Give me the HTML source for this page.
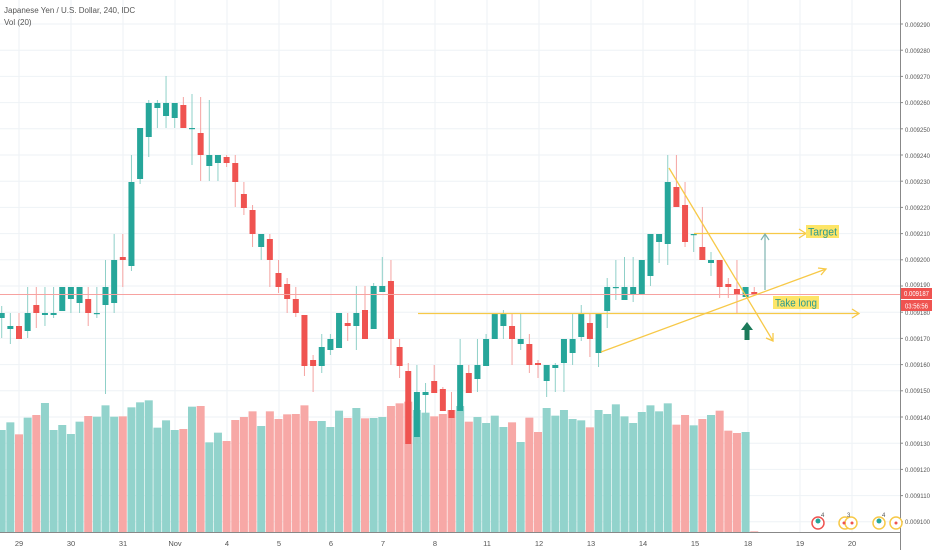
<!DOCTYPE html>
<html><head><meta charset="utf-8"><style>
html,body{margin:0;padding:0;background:#fff;width:932px;height:550px;overflow:hidden}
svg{display:block;font-family:"Liberation Sans",sans-serif}
</style></head><body>
<svg id="s" width="932" height="550" viewBox="0 0 932 550" xmlns="http://www.w3.org/2000/svg">
<g id="grid" stroke="#eef2f6" stroke-width="1"></g>
<g id="vol"></g>
<g id="cand"></g>
<line x1="0" y1="294.5" x2="900" y2="294.5" stroke="#f7a2a0" stroke-width="1"/>
<g fill="none" stroke="#f7c948" stroke-width="1.3">
<line x1="418" y1="313.5" x2="859" y2="313.5"/><polyline points="852,309 859,313.5 852,318"/>
<line x1="601" y1="352" x2="826" y2="269"/><polyline points="818,268 826,269 821,275"/>
<line x1="669" y1="168" x2="773" y2="341"/><polyline points="766,338 773,341 773,333"/>
<line x1="694" y1="233.5" x2="806" y2="233.5"/><polyline points="799,229 806,233.5 799,238"/>
</g>
<g stroke="#7fb3b0" stroke-width="1.2" fill="none"><line x1="765" y1="290" x2="765" y2="234"/><polyline points="761,240 765,234 769,240"/></g>
<rect x="806" y="225" width="33" height="13" fill="#fde567"/>
<text x="808" y="235.5" font-size="11" fill="#2a9a8e" textLength="29" lengthAdjust="spacingAndGlyphs">Target</text>
<rect x="773" y="296" width="46" height="13" fill="#fde567"/>
<text x="775" y="306.5" font-size="11" fill="#2a9a8e" textLength="42" lengthAdjust="spacingAndGlyphs">Take long</text>
<path d="M747 322 L753 330 L749.5 330 L749.5 340 L744.5 340 L744.5 330 L741 330 Z" fill="#1b7a5a"/>
<line x1="0" y1="532.5" x2="900" y2="532.5" stroke="#888" stroke-width="1"/>
<line x1="900.5" y1="0" x2="900.5" y2="550" stroke="#888" stroke-width="1"/>
<g font-size="6.5" fill="#555">
<text x="905" y="27" textLength="25" lengthAdjust="spacingAndGlyphs">0.009290</text><text x="905" y="53" textLength="25" lengthAdjust="spacingAndGlyphs">0.009280</text><text x="905" y="79" textLength="25" lengthAdjust="spacingAndGlyphs">0.009270</text><text x="905" y="105" textLength="25" lengthAdjust="spacingAndGlyphs">0.009260</text><text x="905" y="132" textLength="25" lengthAdjust="spacingAndGlyphs">0.009250</text><text x="905" y="158" textLength="25" lengthAdjust="spacingAndGlyphs">0.009240</text><text x="905" y="184" textLength="25" lengthAdjust="spacingAndGlyphs">0.009230</text><text x="905" y="210" textLength="25" lengthAdjust="spacingAndGlyphs">0.009220</text><text x="905" y="236" textLength="25" lengthAdjust="spacingAndGlyphs">0.009210</text><text x="905" y="262" textLength="25" lengthAdjust="spacingAndGlyphs">0.009200</text><text x="905" y="287" textLength="25" lengthAdjust="spacingAndGlyphs">0.009190</text><text x="905" y="315" textLength="25" lengthAdjust="spacingAndGlyphs">0.009180</text><text x="905" y="341" textLength="25" lengthAdjust="spacingAndGlyphs">0.009170</text><text x="905" y="367" textLength="25" lengthAdjust="spacingAndGlyphs">0.009160</text><text x="905" y="393" textLength="25" lengthAdjust="spacingAndGlyphs">0.009150</text><text x="905" y="420" textLength="25" lengthAdjust="spacingAndGlyphs">0.009140</text><text x="905" y="446" textLength="25" lengthAdjust="spacingAndGlyphs">0.009130</text><text x="905" y="472" textLength="25" lengthAdjust="spacingAndGlyphs">0.009120</text><text x="905" y="498" textLength="25" lengthAdjust="spacingAndGlyphs">0.009110</text><text x="905" y="524" textLength="25" lengthAdjust="spacingAndGlyphs">0.009100</text>
</g>
<g id="ticks" stroke="#888"></g>
<rect x="901" y="288" width="31" height="11" fill="#ef5350"/>
<text x="904" y="296" font-size="7" fill="#fff" textLength="25" lengthAdjust="spacingAndGlyphs">0.009187</text>
<rect x="901" y="300" width="31" height="11" fill="#ef5350"/>
<text x="905" y="308.5" font-size="7" fill="#fff" textLength="23" lengthAdjust="spacingAndGlyphs">03:56:56</text>
<g font-size="7.5" fill="#555" text-anchor="middle">
<text x="19" y="546">29</text><text x="71" y="546">30</text><text x="123" y="546">31</text><text x="175" y="546">Nov</text><text x="227" y="546">4</text><text x="279" y="546">5</text><text x="331" y="546">6</text><text x="383" y="546">7</text><text x="435" y="546">8</text><text x="487" y="546">11</text><text x="539" y="546">12</text><text x="591" y="546">13</text><text x="643" y="546">14</text><text x="695" y="546">15</text><text x="748" y="546">18</text><text x="800" y="546">19</text><text x="852" y="546">20</text>
</g>
<text x="4" y="13" font-size="8" fill="#555">Japanese Yen / U.S. Dollar, 240, IDC</text>
<text x="4" y="25" font-size="8" fill="#555">Vol (20)</text>
<g stroke-width="1.5" fill="#fff">
<circle cx="818" cy="523" r="6" stroke="#ef5350"/><circle cx="845" cy="523" r="6" stroke="#f7c948"/><circle cx="851" cy="523" r="6" stroke="#f7c948"/><circle cx="879" cy="523" r="6" stroke="#f7c948"/><circle cx="896" cy="523" r="6" stroke="#f7c948"/>
</g>
<g fill="#ef5350"><circle cx="844" cy="523" r="1.5"/><circle cx="852" cy="523" r="1.5"/><circle cx="896" cy="523" r="1.5"/></g>
<g fill="#26a69a"><circle cx="818" cy="521" r="2.5"/><circle cx="879" cy="521" r="2.5"/></g>
<g font-size="6" fill="#555"><text x="821" y="517">4</text><text x="847" y="517">3</text><text x="882" y="517">4</text></g>
</svg>
<script>
var NS="http://www.w3.org/2000/svg";
function el(p,t,a){var e=document.createElementNS(NS,t);for(var k in a)e.setAttribute(k,a[k]);p.appendChild(e);return e;}
var grid=document.getElementById('grid'),tk=document.getElementById('ticks');
for(var i=0;i<20;i++){var y=24+i*26.2;el(grid,'line',{x1:0,x2:900,y1:y,y2:y});el(tk,'line',{x1:900,x2:903,y1:y,y2:y});}
[19,71,123,175,227,279,331,383,435,487,539,591,643,695,748,800,852].forEach(function(x){el(grid,'line',{x1:x,x2:x,y1:0,y2:532});});
var C=[[306,313,318,338,1],[313,326,329,344,1],[313,326,339,339,0],[287,313,331,338,1],[287,305,313,328,0],[287,313,315,326,1],[287,313,315,318,1],[287,287,311,311,1],[287,287,299,313,1],[287,287,303,313,1],[287,299,313,326,0],[287,313,314,318,1],[260,287,305,394,1],[234,260,303,313,1],[234,257,260,287,0],[155,182,266,271,1],[128,128,179,184,1],[100,103,137,157,1],[100,103,108,128,1],[76,103,116,128,1],[103,103,118,128,1],[97,105,128,128,0],[94,128,129,165,1],[97,133,155,181,0],[100,155,166,181,1],[155,155,163,181,1],[155,157,163,167,0],[155,163,182,207,0],[182,194,208,215,0],[205,210,234,247,0],[234,234,247,260,1],[234,239,260,287,0],[260,273,287,293,0],[278,284,299,313,0],[287,299,313,317,0],[315,315,366,376,0],[355,360,366,392,0],[334,347,366,373,1],[334,339,350,355,1],[313,313,348,348,1],[313,323,326,341,0],[286,313,326,350,1],[286,310,339,339,0],[283,286,329,329,1],[257,286,292,292,1],[260,281,339,365,0],[339,347,366,378,0],[363,371,444,444,0],[365,392,437,444,1],[383,392,395,420,1],[365,381,393,393,0],[387,389,411,411,0],[392,410,418,443,0],[339,365,411,411,1],[365,373,393,393,0],[339,365,379,392,1],[334,339,366,366,1],[313,313,339,339,1],[310,313,326,339,1],[313,326,339,365,0],[313,339,344,350,1],[334,344,365,373,0],[360,363,365,378,0],[365,365,381,397,1],[363,365,368,392,1],[339,339,363,392,1],[313,339,353,365,1],[305,313,337,341,1],[313,323,339,357,0],[313,313,353,367,1],[278,287,311,328,1],[260,287,288,300,1],[257,287,300,300,1],[257,287,294,302,1],[260,260,294,294,1],[234,234,276,286,1],[234,234,242,263,1],[155,182,244,265,1],[155,187,207,207,0],[182,205,242,247,0],[234,234,235,252,1],[207,247,260,260,0],[252,260,263,276,1],[260,260,287,298,0],[278,284,287,298,0],[260,289,294,313,0],[287,287,297,297,1],[287,292,294,294,0]];
var V=[120,97,133,83,75,39,120,105,132,95,78,80,46,80,79,52,37,31,113,91,120,117,50,48,157,128,153,90,81,64,108,64,87,73,72,46,93,93,111,62,84,54,85,84,81,48,40].map(function(z){return 390+z/3;});
V=V.concat([35,60,68,79,72,60,48,95,81,99,77,111,97,156,83,126,54,77,60,87,91,112,60,72,43,79,99,66,46,64,40,104,75,106,87,75,62,122,129,126,424].map(function(z){return 390+z/3;}));
var vg=document.getElementById('vol'),cg=document.getElementById('cand');
C.forEach(function(c,i){
 var x=1.7+8.65*i, up=c[4]==1, col=up?'#26a69a':'#ef5350', vc=up?'#92d3cc':'#f7a8a6';
 var vt=V[i]; if(vt!==undefined) el(vg,'rect',{x:x-4,y:vt,width:8,height:Math.max(532-vt,1),fill:vc});
 el(cg,'line',{x1:x,x2:x,y1:c[0],y2:c[3],stroke:up?'#8fd0c8':'#f5a3a1','stroke-width':1});
 el(cg,'rect',{x:x-3,y:c[1],width:6,height:Math.max(c[2]-c[1],1.2),fill:col});
});
</script>
</body></html>
